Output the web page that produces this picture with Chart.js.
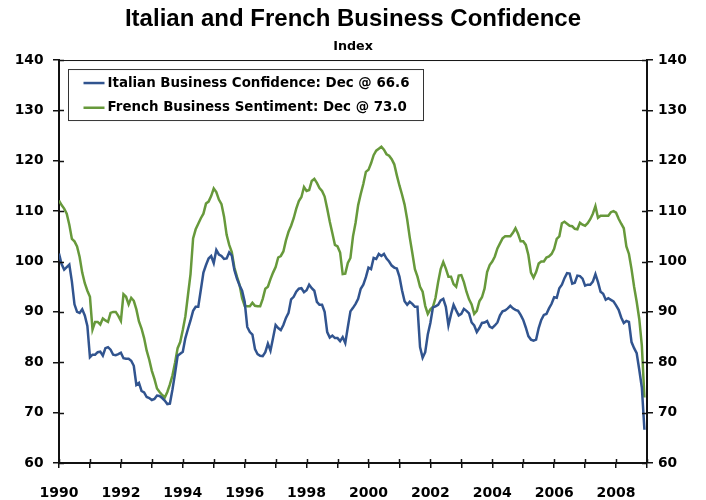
<!DOCTYPE html>
<html>
<head>
<meta charset="utf-8">
<title>Italian and French Business Confidence</title>
<script src="https://cdn.jsdelivr.net/npm/chart.js@4.4.1/dist/chart.umd.min.js"></script>
<style>
  body { margin: 0; background: #fff; }
  canvas { display: block; }
</style>
</head>
<body>
<canvas id="grafico" width="706" height="500"></canvas>
<script>
// monthly series, Jan 1990 - Dec 2008
const startYear = 1990;
const yearLabels = [1990, 1992, 1994, 1996, 1998, 2000, 2002, 2004, 2006, 2008];

const italian = [
  101.6, 99.5, 98.4, 98.9, 99.4, 96.0, 91.5, 90.0, 89.8, 90.5, 89.3, 87.2,
  81.0, 81.5, 81.5, 82.0, 82.1, 81.3, 82.8, 83.0, 82.5, 81.5, 81.4, 81.6,
  81.9, 80.8, 80.7, 80.7, 80.3, 79.3, 75.5, 75.9, 74.3, 74.0, 73.1, 72.9,
  72.5, 72.7, 73.4, 73.3, 72.9, 72.4, 71.7, 71.8, 74.6, 77.8, 81.3, 81.7,
  82.1, 84.8, 86.6, 88.3, 90.2, 91.0, 91.0, 94.4, 97.8, 99.3, 100.6, 101.1,
  99.7, 102.3, 101.4, 101.1, 100.5, 100.6, 101.8, 101.2, 98.3, 96.6, 95.3, 94.2,
  92.0, 87.0, 86.0, 85.5, 82.6, 81.6, 81.3, 81.2, 82.0, 83.7, 82.3, 84.8,
  87.4, 86.8, 86.4, 87.4, 88.8, 89.8, 92.5, 93.0, 94.0, 94.6, 94.7, 93.9,
  94.3, 95.4, 94.7, 94.2, 92.0, 91.4, 91.4, 90.0, 86.0, 84.9, 85.3, 84.8,
  84.8, 84.2, 85.0, 83.8, 87.0, 90.1, 90.8, 91.6, 92.6, 94.6, 95.4, 96.9,
  98.8, 98.5, 100.7, 100.5, 101.5, 101.1, 101.5, 100.6, 100.0, 99.2, 98.8, 98.6,
  97.0, 94.3, 92.1, 91.4, 92.0, 91.6, 91.0, 91.0, 83.0, 80.9, 82.0, 85.5,
  87.8, 90.9, 91.1, 91.4, 92.3, 92.6, 91.0, 87.3, 89.5, 91.4, 90.3, 89.3,
  89.6, 90.6, 90.2, 89.7, 87.9, 87.3, 86.0, 86.8, 87.8, 87.9, 88.2, 87.1,
  86.8, 87.3, 87.9, 89.3, 90.1, 90.3, 90.7, 91.2, 90.7, 90.4, 90.2, 89.4,
  88.4, 86.9, 85.2, 84.5, 84.3, 84.5, 86.8, 88.4, 89.4, 89.6, 90.7, 91.6,
  92.9, 92.8, 94.7, 95.4, 96.7, 97.7, 97.6, 95.6, 95.8, 97.2, 97.1, 96.6,
  95.2, 95.4, 95.4, 96.0, 97.5, 95.9, 94.0, 93.6, 92.4, 92.7, 92.4, 92.1,
  91.3, 90.4, 88.9, 87.8, 88.2, 88.0, 84.0, 82.8, 81.8, 78.5, 75.0, 66.6
];

const french = [
  112.1, 111.2, 110.5, 109.5, 107.3, 104.5, 104.0, 103.0, 100.9, 97.8, 95.7, 94.2,
  93.0, 86.5, 88.0, 88.0, 87.5, 88.7, 88.3, 88.0, 89.8, 90.0, 90.0, 89.2,
  88.2, 93.5, 93.0, 91.5, 92.8, 92.2, 90.5, 88.1, 86.7, 84.8, 82.3, 80.5,
  78.3, 76.7, 74.8, 74.1, 73.5, 73.0, 74.1, 75.6, 77.4, 79.9, 82.8, 84.0,
  86.4, 89.1, 93.3, 97.5, 104.6, 106.4, 107.5, 108.6, 109.5, 111.5, 111.9, 113.0,
  114.5, 113.8, 112.3, 111.4, 108.9, 105.3, 103.3, 101.9, 98.8, 97.0, 95.4, 92.7,
  91.2, 91.1, 91.1, 91.8, 91.2, 91.1, 91.1, 92.6, 94.6, 95.0, 96.5, 97.8,
  98.9, 100.8, 101.1, 102.0, 104.2, 105.9, 107.1, 108.6, 110.5, 112.0, 112.8, 114.8,
  114.0, 114.2, 116.0, 116.4, 115.6, 114.6, 114.0, 112.9, 110.5, 107.9, 105.6, 103.3,
  103.0, 101.8, 97.5, 97.6, 99.7, 100.7, 105.0, 107.7, 111.2, 113.4, 115.4, 117.8,
  118.2, 119.5, 121.1, 122.0, 122.4, 122.8, 122.2, 121.3, 121.0, 120.3, 119.3, 117.1,
  115.1, 113.3, 111.3, 108.4, 104.8, 101.7, 98.5, 97.0, 95.0, 94.0, 91.2, 89.6,
  90.5, 91.0, 92.8, 95.9, 98.5, 99.9, 98.6, 97.0, 97.0, 95.5, 95.0, 97.2,
  97.3, 95.9, 94.0, 92.5, 91.5, 89.6, 90.2, 92.1, 92.9, 94.6, 97.9, 99.3,
  100.0, 101.0, 102.6, 103.6, 104.6, 105.0, 105.0, 105.0, 105.7, 106.6, 105.5, 104.0,
  104.0, 103.3, 101.3, 97.8, 96.8, 97.9, 99.6, 100.0, 100.0, 100.8, 101.0, 101.5,
  102.5, 104.5, 105.0, 107.6, 107.9, 107.5, 107.1, 107.0, 106.5, 106.4, 107.7, 107.3,
  107.1, 107.6, 108.4, 109.5, 111.0, 108.7, 109.1, 109.1, 109.1, 109.1, 109.8, 110.0,
  109.7, 108.5, 107.5, 106.6, 103.0, 101.5, 98.5, 95.0, 92.0, 88.6, 83.3, 73.0
];

const seriesNames = [
  'Italian Business Confidence: Dec @ 66.6',
  'French Business Sentiment: Dec @ 73.0'
];

const azul = '#31548f';
const verde = '#67993b';

function toPoints(values) {
  return values.map((v, i) => ({ x: startYear + i / 12, y: v }));
}

// top border, inner half of the tick marks and the boxed legend
const extras = {
  id: 'extras',
  afterDraw(chart) {
    const ctx = chart.ctx;
    const a = chart.chartArea;
    ctx.save();
    ctx.strokeStyle = '#111';
    ctx.lineWidth = 1;
    ctx.beginPath();
    ctx.moveTo(a.left, a.top + 0.5);
    ctx.lineTo(a.right, a.top + 0.5);
    ctx.stroke();

    ctx.lineWidth = 1.5;
    ctx.beginPath();
    chart.scales.y.ticks.forEach(t => {
      const py = Math.round(chart.scales.y.getPixelForValue(t.value)) + 0.5;
      ctx.moveTo(a.left, py); ctx.lineTo(a.left + 5, py);
      ctx.moveTo(a.right - 5, py); ctx.lineTo(a.right, py);
    });
    chart.scales.x.ticks.forEach(t => {
      const px = Math.round(chart.scales.x.getPixelForValue(t.value)) + 0.5;
      ctx.moveTo(px, a.bottom - 4); ctx.lineTo(px, a.bottom);
    });
    ctx.stroke();

    // legend
    const bx = a.left + 9.5, by = a.top + 9.5;
    ctx.strokeStyle = '#333';
    ctx.lineWidth = 1;
    ctx.strokeRect(bx, by, 355, 51);
    ctx.font = 'bold 13.4px "DejaVu Sans"';
    ctx.textBaseline = 'middle';
    ctx.fillStyle = '#000';
    chart.data.datasets.forEach((ds, i) => {
      const ly = by + 13.5 + i * 24.7;
      ctx.strokeStyle = ds.borderColor;
      ctx.lineWidth = 2.5;
      ctx.beginPath();
      ctx.moveTo(bx + 15, ly);
      ctx.lineTo(bx + 36, ly);
      ctx.stroke();
      ctx.fillText(ds.label, bx + 39, ly);
    });
    ctx.restore();
  }
};

const ejeY = {
  min: 60,
  max: 140,
  grid: { drawOnChartArea: false, tickLength: 6, color: '#111', lineWidth: 1.5 },
  border: { color: '#111', width: 2 },
  ticks: {
    stepSize: 10,
    color: '#000',
    font: { family: 'DejaVu Sans', size: 13.8, weight: 'bold' },
    callback: v => String(v)
  }
};

const chart = new Chart(document.getElementById('grafico'), {
  type: 'line',
  data: {
    datasets: [
      { label: seriesNames[0], data: toPoints(italian), borderColor: azul, borderWidth: 2.5, pointRadius: 0, tension: 0 },
      { label: seriesNames[1], data: toPoints(french), borderColor: verde, borderWidth: 2.5, pointRadius: 0, tension: 0 }
    ]
  },
  options: {
    responsive: false,
    animation: false,
    devicePixelRatio: 1,
    layout: { padding: 0 },
    plugins: {
      legend: { display: false },
      tooltip: { enabled: false },
      title: {
        display: true,
        text: 'Italian and French Business Confidence',
        color: '#000',
        font: { family: 'Liberation Sans', size: 24, weight: 'bold' },
        padding: { top: 5, bottom: 0 }
      },
      subtitle: {
        display: true,
        text: 'Index',
        color: '#000',
        font: { family: 'DejaVu Sans', size: 12.7, weight: 'bold' },
        padding: { top: 5.6, bottom: 5.4 }
      }
    },
    scales: {
      x: {
        type: 'linear',
        min: startYear,
        max: 2009,
        grid: { drawOnChartArea: false, tickLength: 5, color: '#111', lineWidth: 1.5 },
        border: { color: '#111', width: 2 },
        ticks: {
          stepSize: 1,
          autoSkip: false,
          maxRotation: 0,
          padding: 17,
          color: '#000',
          font: { family: 'DejaVu Sans', size: 14, weight: 'bold' },
          callback: v => yearLabels.includes(v) ? String(v) : ''
        },
        afterFit: s => { s.height = 37; }
      },
      y: Object.assign({}, ejeY, {
        position: 'left',
        ticks: Object.assign({}, ejeY.ticks, { padding: 9.5 }),
        afterFit: s => { s.width = 59; }
      }),
      y2: Object.assign({}, ejeY, {
        position: 'right',
        ticks: Object.assign({}, ejeY.ticks, { padding: 5 }),
        afterFit: s => { s.width = 59; }
      })
    }
  },
  plugins: [extras]
});
</script>
</body>
</html>
